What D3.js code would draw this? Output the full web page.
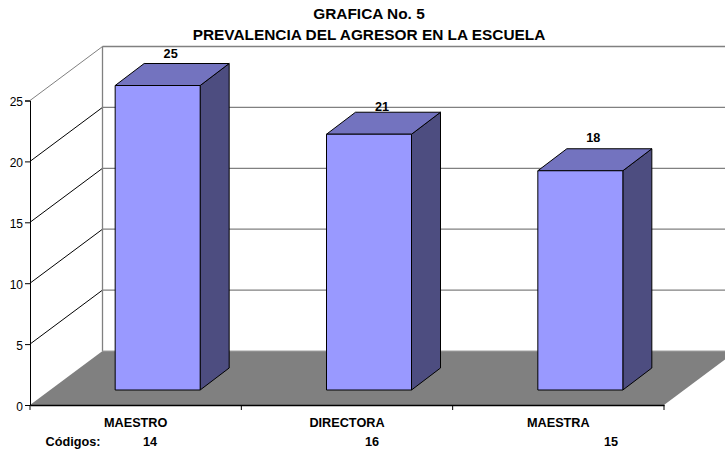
<!DOCTYPE html>
<html>
<head>
<meta charset="utf-8">
<script src="https://cdn.jsdelivr.net/npm/d3@7"></script>
<style>
html, body { margin: 0; padding: 0; background: #fff; }
svg { display: block; }
text { font-family: "Liberation Sans", Arial, sans-serif; fill: #000; }
.bold { font-weight: bold; font-size: 12.7px; }
.tick text { font-size: 12px; }
</style>
</head>
<body>
<div id="chart"></div>
<script>
var categories = ['MAESTRO', 'DIRECTORA', 'MAESTRA'];
var values = [25, 21, 18];
var codes = ['14', '16', '15'];
var codeLabel = 'Códigos:';
var yTicks = [0, 5, 10, 15, 20, 25];
var titleLines = ['GRAFICA No. 5', 'PREVALENCIA DEL AGRESOR EN LA ESCUELA'];

var width = 725, height = 449;
var plotLeft = 30, plotRight = 664, plotBottom = 405, plotTop = 100.5;
var depthX = 72.5, depthY = -54;    // how far the back wall is pushed

var svg = d3.select('#chart').append('svg')
    .attr('width', width)
    .attr('height', height);

var x = d3.scaleBand().domain(categories).range([plotLeft, plotRight]).padding(0);
var y = d3.scaleLinear().domain([0, 25]).range([plotBottom, plotTop]);

var line = function (pts) { return 'M' + pts.join('L') + 'Z'; };

// floor
svg.append('path')
    .attr('d', line([[plotLeft, plotBottom], [plotLeft + depthX, plotBottom + depthY], [plotRight + depthX, plotBottom + depthY], [plotRight, plotBottom]]))
    .attr('fill', '#808080')
    .attr('stroke', 'none');

// back wall and left wall grid
yTicks.forEach(function (t) {
    var yy = y(t);
    if (t > 0) {
        svg.append('line')
            .attr('x1', plotLeft + depthX).attr('x2', plotRight + depthX)
            .attr('y1', yy + depthY).attr('y2', yy + depthY)
            .attr('stroke', '#808080').attr('stroke-width', 1.3);
        svg.append('line')
            .attr('x1', plotLeft).attr('x2', plotLeft + depthX)
            .attr('y1', yy).attr('y2', yy + depthY)
            .attr('stroke', t === 25 ? '#808080' : '#000').attr('stroke-width', 1);
    }
});
svg.append('line')
    .attr('x1', plotLeft + depthX).attr('x2', plotLeft + depthX)
    .attr('y1', y(25) + depthY).attr('y2', plotBottom + depthY)
    .attr('stroke', '#808080').attr('stroke-width', 1.3);
svg.append('line')
    .attr('x1', plotLeft + depthX).attr('x2', plotRight + depthX)
    .attr('y1', plotBottom + depthY).attr('y2', plotBottom + depthY)
    .attr('stroke', '#a0a0a0').attr('stroke-width', 1);

// bars
var barW = 85, offX = 22, offY = -15, barDX = 29, barDY = -22;
var labelShift = [-1, 4, -2];   // the value labels do not sit evenly over the bars
var bars = svg.selectAll('.bar')
    .data(categories.map(function (c, i) { return { name: c, val: values[i], i: i }; }))
    .enter()
    .append('g')
    .attr('class', 'bar')
    .attr('stroke', '#000')
    .attr('stroke-width', 1)
    .attr('stroke-linejoin', 'round');

function barLeft(d) { return x(d.name) + (x.bandwidth() - barW) / 2 + offX; }
function barTop(d) { return y(d.val) + offY; }
var barBottom = y(0) + offY;

bars.append('path')
    .attr('fill', '#4d4d80')
    .attr('d', function (d) {
        var r = barLeft(d) + barW;
        return line([[r, barTop(d)], [r + barDX, barTop(d) + barDY], [r + barDX, barBottom + barDY], [r, barBottom]]);
    });
bars.append('path')
    .attr('fill', '#7373bf')
    .attr('d', function (d) {
        var l = barLeft(d), t = barTop(d);
        return line([[l, t], [l + barDX, t + barDY], [l + barW + barDX, t + barDY], [l + barW, t]]);
    });
bars.append('rect')
    .attr('fill', '#9999ff')
    .attr('x', barLeft)
    .attr('y', barTop)
    .attr('width', barW)
    .attr('height', function (d) { return barBottom - barTop(d); });

// value labels
bars.append('text')
    .attr('class', 'bold')
    .attr('stroke', 'none')
    .attr('text-anchor', 'middle')
    .attr('x', function (d) { return barLeft(d) + barW / 2 + barDX / 2 - 1.5; })
    .attr('y', function (d) { return barTop(d) + barDY - 5 + labelShift[d.i]; })
    .text(function (d) { return d.val; });

// axes
var yAxis = svg.append('g')
    .attr('transform', 'translate(' + plotLeft + ',0)')
    .call(d3.axisLeft(y).tickValues(yTicks).tickSize(5).tickPadding(2));
yAxis.select('.domain').attr('stroke', '#000').attr('stroke-width', 1);
yAxis.selectAll('.tick text').attr('dy', '0.45em');

var xAxis = svg.append('g')
    .attr('transform', 'translate(0,' + plotBottom + ')')
    .call(d3.axisBottom(x).tickValues([]).tickSizeOuter(0));
xAxis.select('.domain').attr('stroke', '#000').attr('stroke-width', 1.4);

var tickXs = categories.map(function (c) { return x(c); }).concat([plotRight]);
svg.selectAll('.xtick')
    .data(tickXs)
    .enter()
    .append('line')
    .attr('class', 'xtick')
    .attr('x1', function (d) { return d; })
    .attr('x2', function (d) { return d; })
    .attr('y1', plotBottom)
    .attr('y2', plotBottom + 5)
    .attr('stroke', '#000');

// category labels
svg.selectAll('.cat')
    .data(categories)
    .enter()
    .append('text')
    .attr('class', 'cat bold')
    .attr('text-anchor', 'middle')
    .attr('x', function (d) { return x(d) + x.bandwidth() / 2; })
    .attr('y', 427)
    .text(function (d) { return d; });

// codes row
var codeXs = [150, 372, 611];
svg.selectAll('.code')
    .data(codes)
    .enter()
    .append('text')
    .attr('class', 'code bold')
    .attr('text-anchor', 'middle')
    .attr('x', function (d, i) { return codeXs[i]; })
    .attr('y', 446)
    .text(function (d) { return d; });
svg.append('text')
    .attr('class', 'bold')
    .attr('text-anchor', 'middle')
    .attr('x', 73)
    .attr('y', 446)
    .text(codeLabel);

// title
svg.selectAll('.title')
    .data(titleLines)
    .enter()
    .append('text')
    .attr('class', 'title bold')
    .attr('text-anchor', 'middle')
    .attr('x', 369)
    .attr('y', function (d, i) { return 19 + i * 20.5; })
    .style('font-size', '15.4px')
    .text(function (d) { return d; });
</script>
</body>
</html>
